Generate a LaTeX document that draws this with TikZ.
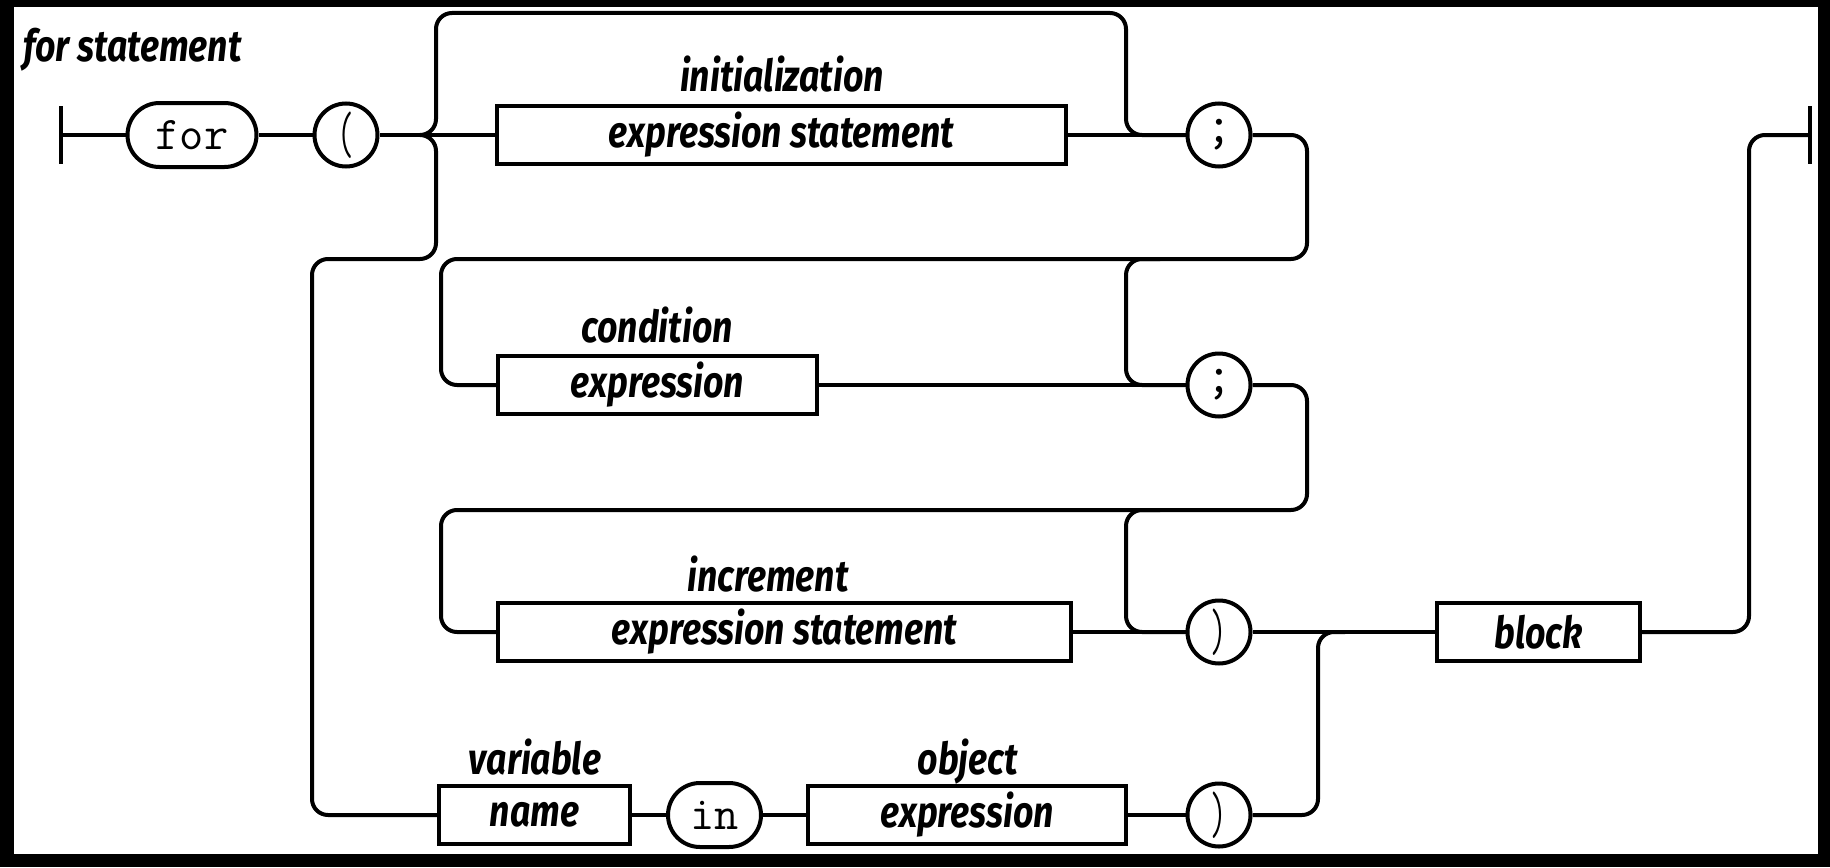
\documentclass[tikz,border=0pt]{standalone}
\usepackage{fontspec}
\usetikzlibrary{shapes.misc}
\newfontfamily\labfont{Fira Sans}[FakeStretch=0.81]
\newcommand{\labsize}{\labfont\bfseries\itshape\fontsize{44}{48}\selectfont}
\newcommand{\tallglyph}[1]{\scalebox{0.7}[1.3]{#1}}
\tikzset{
  ln/.style={line width=4pt, rounded corners=16pt},
  bx/.style={draw, line width=4pt, rectangle, minimum height=58pt, inner sep=0pt, font=\labsize},
  lab/.style={anchor=base, inner sep=0pt, font=\labsize},
  pill/.style={draw, line width=4pt, rounded rectangle, minimum height=64pt, inner sep=0pt, font=\ttfamily\fontsize{47}{50}\selectfont},
  circ/.style={draw, line width=4pt, circle, minimum size=63pt, inner sep=0pt, font=\ttfamily\fontsize{54}{56}\selectfont},
  par/.style={circ, font=\ttfamily\fontsize{46}{50}\selectfont},
}
\begin{document}
\begin{tikzpicture}[x=1pt,y=-1pt]
\fill[black] (0,0) rectangle (1830,867);
\fill[white] (14,7) rectangle (1818,854);
\useasboundingbox (0,0) rectangle (1830,867);

\node[anchor=base west, inner sep=0pt, font=\labsize] (title) at (23,62) {for statement};

% top row
\coordinate (sb1) at (61,106);
\coordinate (sb2) at (61,164);
\coordinate (sbm) at (61,135);
\node[pill, minimum width=129pt] (for) at (192,135) {for};
\node[par] (lp) at (346,135) {\tallglyph{(}};
\coordinate (sp) at (420,135);
\node[bx, minimum width=569pt] (init) at (781.5,135) {expression statement};
\node[lab] (initl) at (782,91) {initialization};
\node[circ] (s1) at (1219,135) {;};

% second row
\node[bx, minimum width=319pt] (cond) at (657.5,385) {expression};
\node[lab] (condl) at (657,342) {condition};
\node[circ] (s2) at (1219,385) {;};

% third row
\node[bx, minimum width=573pt] (incr) at (784.5,632) {expression statement};
\node[lab] (incrl) at (768,591) {increment};
\node[par] (rp1) at (1219,632) {\tallglyph{)}};
\node[bx, minimum width=203pt] (block) at (1538.5,632) {block};
\coordinate (eb1) at (1810,106);
\coordinate (eb2) at (1810,164);
\coordinate (ebm) at (1810,135);

% bottom row
\node[bx, minimum width=191pt] (name) at (534.5,815) {name};
\node[lab] (namel) at (535,774) {variable};
\node[pill, minimum width=93pt] (in) at (714.5,815) {in};
\node[bx, minimum width=318pt] (obj) at (967,815) {expression};
\node[lab] (objl) at (967.5,774) {object};
\node[par] (rp2) at (1219,815) {\tallglyph{)}};

% connectors
\draw[line width=4pt] (sb1) -- (sb2);
\draw[line width=4pt] (eb1) -- (eb2);
\draw[ln] (sbm) -- (for.west);
\draw[ln] (for.east) -- (lp.west);
\draw[ln] (lp.east) -- (sp) -- (init.west);
\draw[ln] (sp) -| (436,13) -| (1126,135) -- (s1.west);
\draw[ln] (sp) -| (436,259) -| (312,815) -- (name.west);
\draw[ln] (init.east) -- (s1.west);

\draw[ln] (s1.east) -| (1307,259) -| (441,385) -- (cond.west);
\draw[ln] (1160,259) -| (1126,385) -- (s2.west);
\draw[ln] (cond.east) -- (s2.west);

\draw[ln] (s2.east) -| (1307,510) -| (441,632) -- (incr.west);
\draw[ln] (1160,510) -| (1126,632) -- (rp1.west);
\draw[ln] (incr.east) -- (rp1.west);
\draw[ln] (rp1.east) -- (block.west);
\draw[ln] (block.east) -| (1749,135) -- (ebm);

\draw[ln] (name.east) -- (in.west);
\draw[ln] (in.east) -- (obj.west);
\draw[ln] (obj.east) -- (rp2.west);
\draw[ln] (rp2.east) -| (1318,632) -- (1345,632);
\end{tikzpicture}
\end{document}
